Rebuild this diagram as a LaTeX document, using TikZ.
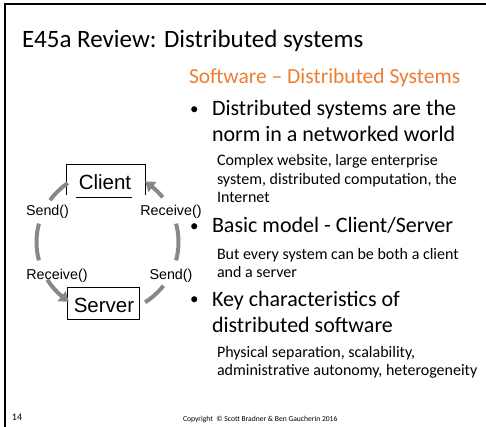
\documentclass[tikz,border=0pt]{standalone}
\usepackage{fontspec}
\setmainfont{Carlito}
\newfontfamily\arialfont{Liberation Sans}
\usetikzlibrary{arrows.meta,bending,calc}
\definecolor{slideorange}{RGB}{237,125,49}
\definecolor{flowgray}{RGB}{136,136,136}

\begin{document}
\begin{tikzpicture}[x=1pt,y=-1pt,
  txt/.style={anchor=base west, inner sep=0pt, outer sep=0pt},
  slidetitle/.style={txt, font=\fontsize{25}{29}\selectfont},
  subhead/.style={txt, text=slideorange, font=\fontsize{21.5}{25}\selectfont},
  bigline/.style={txt, font=\fontsize{22}{26}\selectfont},
  bulletmark/.style={txt, font=\fontsize{17}{20}\selectfont},
  smallline/.style={txt, font=\fontsize{16}{19}\selectfont},
  footer/.style={txt, font=\fontsize{7.6}{9}\selectfont},
  boxlabel/.style={inner sep=0pt, font=\arialfont\fontsize{20.5}{24}\selectfont},
  calllabel/.style={inner sep=0pt, font=\arialfont\fontsize{14.3}{17}\selectfont},
  flow/.style={draw=flowgray, line width=4pt},
  flowarrow/.style={flow, -{Triangle[length=9pt,width=12.5pt,bend]}}
]
\useasboundingbox (0,0) rectangle (486,427);

% slide frame (top and left edges)
\draw[line width=2.5pt] (486,4) -- (5,4) -- (5,427);

% heading
\node[slidetitle] (title) at (22,48) {E45a Review: Distributed systems};
\node[subhead] (sub) at (189,84) {Software -- Distributed Systems};

% bullet list
\node[bulletmark] (b1) at (190,114.5) {•};
\node[bigline] (l1a) at (212,116) {Distributed systems are the};
\node[bigline] (l1b) at (212,141.5) {norm in a networked world};
\node[smallline] (s1a) at (217,166) {Complex website, large enterprise};
\node[smallline] (s1b) at (217,184.5) {system, distributed computation, the};
\node[smallline] (s1c) at (217,203) {Internet};

\node[bulletmark] (b2) at (190,231.5) {•};
\node[bigline] (l2a) at (212,233) {Basic model - Client/Server};
\node[smallline] (s2a) at (217,259) {But every system can be both a client};
\node[smallline] (s2b) at (217,277) {and a server};

\node[bulletmark] (b3) at (190,304.5) {•};
\node[bigline] (l3a) at (212,306) {Key characteristics of};
\node[bigline] (l3b) at (212,332.5) {distributed software};
\node[smallline] (s3a) at (217,357) {Physical separation, scalability,};
\node[smallline] (s3b) at (217,375) {administrative autonomy, heterogeneity};

% footer
\node[txt, font=\fontsize{10}{12}\selectfont] (page) at (12,420.7) {14};
\node[footer] (copy) at (183,421) {Copyright \ © Scott Bradner \& Ben Gaucherin 2016};

% client / server boxes
\node[boxlabel, minimum width=78pt, minimum height=30pt] (client) at (106,180) {};
\node[boxlabel] (clienttext) at (105,182) {Client};
\draw[line width=0.8pt] (client.south west) -- (client.north west) -- (client.north east) -- (client.south east);
\draw[line width=0.8pt] ([shift={(9pt,-2pt)}]client.south west) -- ([shift={(-13pt,-2pt)}]client.south east);

\node[boxlabel, draw, line width=0.8pt, minimum width=72pt, minimum height=32pt] (server) at (103,303.5) {};
\node[boxlabel] (servertext) at (104,305) {Server};

% call labels
\node[calllabel] (sendc) at (47.5,212) {Send()};
\node[calllabel] (recvc) at (171,212) {Receive()};
\node[calllabel] (recvs) at (57,276) {Receive()};
\node[calllabel] (sends) at (171,276) {Send()};

% message cycle around the two boxes
\coordinate (o) at (107.5,242);
\coordinate (tlA) at ($(o)+(236:71)$);
\coordinate (lfA) at ($(o)+(195:71)$);
\coordinate (blA) at ($(o)+(148:71)$);
\coordinate (brA) at ($(o)+(58:71)$);
\coordinate (rtA) at ($(o)+(15:71)$);
\coordinate (trA) at ($(o)+(-39:71)$);

\draw[flow] (tlA) arc[start angle=236, end angle=216, radius=71];
\draw[flow] (lfA) arc[start angle=195, end angle=165, radius=71];
\draw[flowarrow] (blA) arc[start angle=148, end angle=123, radius=71];
\draw[flow] (brA) arc[start angle=58, end angle=38, radius=71];
\draw[flow] (rtA) arc[start angle=15, end angle=-15, radius=71];
\draw[flowarrow] (trA) arc[start angle=-39, end angle=-58, radius=71];
\end{tikzpicture}
\end{document}
